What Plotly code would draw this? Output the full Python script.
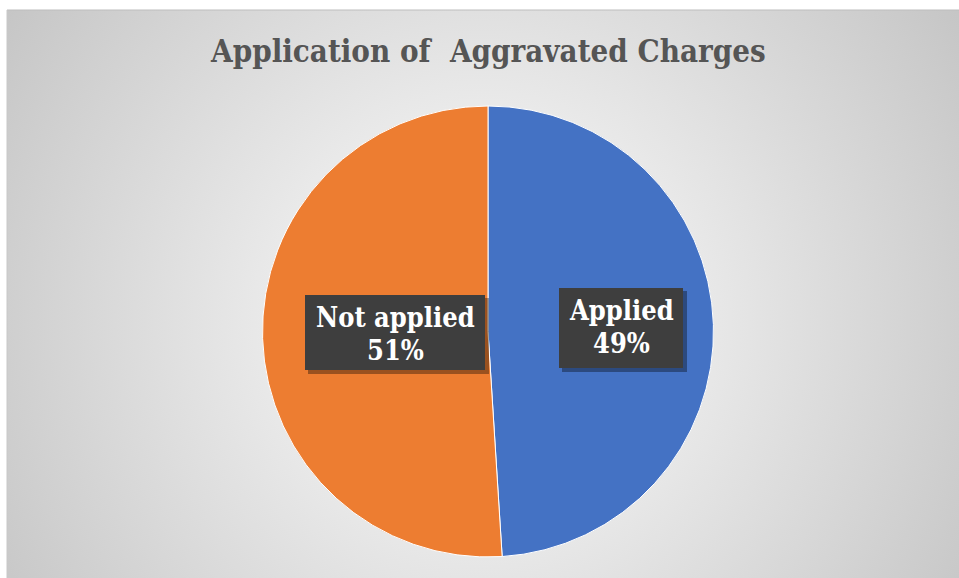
import base64
import plotly.graph_objects as go

# ---- data ----
labels = ["Applied", "Not applied"]
values = [49, 51]
colors = ["#4472C4", "#ED7D31"]
title_text = "Application of  Aggravated Charges"

W, H = 959, 578
OFF = 0  # body margin removed by post_script

def px(x):
    return (x - OFF) / W

def py(y):
    return 1 - (y - OFF) / H

SERIF = "DejaVu Serif Condensed, DejaVu Serif"

# chart-area (grey gradient) rectangle in pixels
AX0, AY0 = 7, 10
cw, ch = W - AX0, H - AY0
svg = f'''<svg xmlns="http://www.w3.org/2000/svg" width="{cw}" height="{ch}" viewBox="0 0 {cw} {ch}" preserveAspectRatio="none">
<defs><radialGradient id="g" gradientUnits="userSpaceOnUse" cx="475" cy="310" r="575">
<stop offset="0" stop-color="#ffffff"/><stop offset="1" stop-color="#c5c5c5"/></radialGradient></defs>
<rect x="0" y="0" width="{cw}" height="{ch}" fill="url(#g)"/></svg>'''
src = "data:image/svg+xml;base64," + base64.b64encode(svg.encode()).decode()

total = sum(values)
pcts = [round(100 * v / total) for v in values]

fig = go.Figure()
fig.add_trace(go.Pie(
    labels=labels, values=values, sort=False, direction="clockwise", rotation=0,
    marker=dict(colors=colors, line=dict(color="#ffffff", width=1)),
    textinfo="none", showlegend=False, hole=0,
    domain=dict(x=[px(262), px(714)], y=[py(557), py(106)]),
))

boxes = {
    "Applied": (559, 288, 683, 368, 310, 343),
    "Not applied": (305, 295, 485, 370, 317, 350),
}

shapes = []
annotations = []
shapes.append(dict(type="line", xref="paper", yref="paper", x0=px(AX0), x1=1, y0=py(AY0), y1=py(AY0),
                   line=dict(color="#bdbdbd", width=1), layer="below"))
shapes.append(dict(type="line", xref="paper", yref="paper", x0=px(AX0), x1=px(AX0), y0=0, y1=py(AY0),
                   line=dict(color="#c8c8c8", width=1), layer="below"))
for lab, p in zip(labels, pcts):
    x0, y0, x1, y1, l1, l2 = boxes[lab]
    shapes.append(dict(type="rect", xref="paper", yref="paper", x0=px(x0 + 3), x1=px(x1 + 4),
                       y0=py(y1 + 4), y1=py(y0 + 3), fillcolor="rgba(0,0,0,0.35)", line=dict(width=0), layer="above"))
    shapes.append(dict(type="rect", xref="paper", yref="paper", x0=px(x0), x1=px(x1),
                       y0=py(y1), y1=py(y0), fillcolor="#3e3e3e", line=dict(width=0), layer="above"))
    cx = (x0 + x1) / 2
    annotations.append(dict(text=f"<b>{lab}</b>", x=px(cx), y=py(l1), xref="paper", yref="paper",
                            showarrow=False, xanchor="center", yanchor="middle",
                            font=dict(family=SERIF, size=27, color="#ffffff")))
    annotations.append(dict(text=f"<b>{p}%</b>", x=px(cx), y=py(l2), xref="paper", yref="paper",
                            showarrow=False, xanchor="center", yanchor="middle",
                            font=dict(family=SERIF, size=27, color="#ffffff")))

annotations.append(dict(text=f"<b>{title_text}</b>", x=px(488), y=py(51), xref="paper", yref="paper",
                        showarrow=False, xanchor="center", yanchor="middle",
                        font=dict(family=SERIF, size=31, color="#555555")))

fig.update_layout(
    width=W, height=H, margin=dict(l=0, r=0, t=0, b=0),
    paper_bgcolor="#ffffff", plot_bgcolor="#ffffff",
    shapes=shapes, annotations=annotations,
    images=[dict(source=src, xref="paper", yref="paper", x=px(AX0), y=py(AY0), sizex=1 - px(AX0),
                 sizey=py(AY0), xanchor="left", yanchor="top", sizing="stretch", layer="below")],
)

fig.write_html("out.html", config={"displayModeBar": False},
               post_script="document.body.style.margin='0';document.documentElement.style.overflow='hidden';document.body.style.overflow='hidden';")
